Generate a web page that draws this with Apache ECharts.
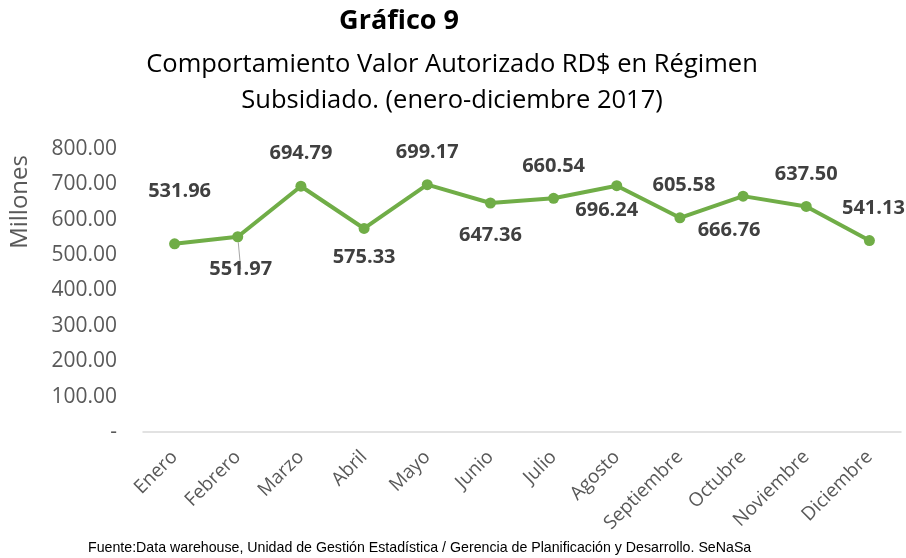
<!DOCTYPE html>
<html>
<head>
<meta charset="utf-8">
<script src="https://cdn.jsdelivr.net/npm/echarts@6/dist/echarts.min.js"></script>
<style>
html, body { margin: 0; padding: 0; background: #fff; }
#main { width: 906px; height: 558px; }
</style>
</head>
<body>
<div id="main"></div>
<script>
// datos del grafico
var meses = ['Enero', 'Febrero', 'Marzo', 'Abril', 'Mayo', 'Junio', 'Julio', 'Agosto', 'Septiembre', 'Octubre', 'Noviembre', 'Diciembre'];
var valores = [531.96, 551.97, 694.79, 575.33, 699.17, 647.36, 660.54, 696.24, 605.58, 666.76, 637.50, 541.13];
var ejeY = [0, 100, 200, 300, 400, 500, 600, 700, 800];

// posicion de cada etiqueta (arriba / abajo), como en la imagen
var posEtiqueta = ['top', 'bottom', 'top', 'bottom', 'top', 'bottom', 'top', 'bottom', 'top', 'bottom', 'top', 'top'];
var despEtiqueta = [[5, -32], [3, 12], [0, -12], [0, 8], [0, -12], [0, 12], [0, -12], [-10, 4], [4, -12], [-14, 14], [0, -12], [4, -12]];
var conLinea = [false, true, false, false, false, false, false, false, false, false, false, false];

var datos = [];
for (var i = 0; i < valores.length; i++) {
	datos.push({
		value: valores[i],
		label: { position: posEtiqueta[i], offset: despEtiqueta[i] },
		labelLine: { show: conLinea[i], lineStyle: { color: '#a6a6a6', width: 1 } }
	});
}

var myChart = echarts.init(document.getElementById('main'));
var option = {
	backgroundColor: '#fff',
	animation: false,
	title: [
		{
			text: 'Gráfico 9',
			left: 394, top: 3, textAlign: 'center',
			textStyle: { fontFamily: 'Open Sans', fontSize: 27, fontWeight: 'bold', color: '#000' }
		},
		{
			text: 'Comportamiento Valor Autorizado RD$ en Régimen\nSubsidiado. (enero-diciembre 2017)',
			left: 447, top: 42, textAlign: 'center',
			textStyle: { fontFamily: 'Open Sans', fontSize: 25.5, fontWeight: 'normal', color: '#000', lineHeight: 36 }
		}
	],
	graphic: [
		{
			type: 'text', left: 8, top: 155, rotation: Math.PI / 2,
			style: { text: 'Millones', font: '24px "Open Sans"', fill: '#595959' }
		},
		{
			type: 'text', left: 88, top: 541,
			style: { text: 'Fuente:Data warehouse, Unidad de Gestión Estadística / Gerencia de Planificación y Desarrollo. SeNaSa', font: '14.2px "Liberation Sans"', fill: '#000' }
		}
	],
	grid: { left: 143, right: 5, top: 149, bottom: 126 },
	xAxis: {
		type: 'category',
		data: meses,
		axisLine: { lineStyle: { color: '#d9d9d9', width: 1.5 } },
		axisTick: { show: false },
		axisLabel: { rotate: 45, interval: 0, fontFamily: 'Open Sans', fontSize: 19, color: '#595959', margin: 22 }
	},
	yAxis: {
		type: 'value',
		min: ejeY[0], max: ejeY[ejeY.length - 1], interval: 100,
		splitLine: { show: false },
		axisLine: { show: false },
		axisTick: { show: false },
		axisLabel: {
			fontFamily: 'Open Sans', fontSize: 21, color: '#595959', margin: 26,
			formatter: function (v) { return v === 0 ? '-' : v.toFixed(2); }
		}
	},
	series: [
		{
			name: 'Valor Autorizado',
			type: 'line',
			data: datos,
			symbol: 'circle',
			symbolSize: 11,
			itemStyle: { color: '#70ad47' },
			lineStyle: { color: '#70ad47', width: 4 },
			label: {
				show: true,
				fontFamily: 'Open Sans', fontSize: 20, fontWeight: 'bold', color: '#404040',
				formatter: function (p) { return p.value.toFixed(2); }
			}
		}
	]
};
myChart.setOption(option);
</script>
</body>
</html>
